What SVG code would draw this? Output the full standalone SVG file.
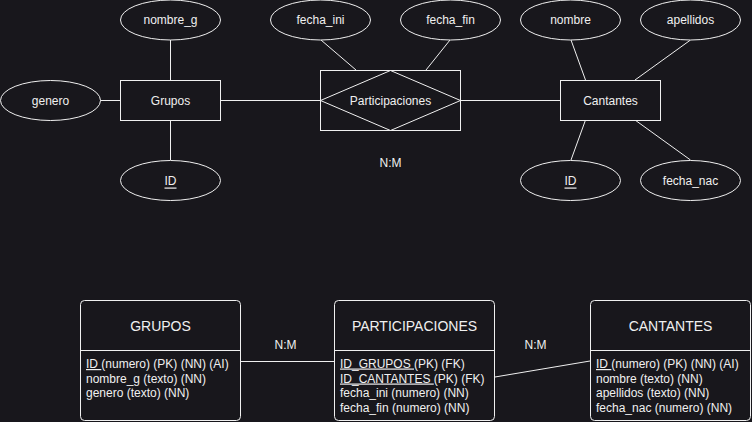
<svg xmlns="http://www.w3.org/2000/svg" width="752" height="422" viewBox="0 0 752 422">
<style>
.s{fill:#18171c;stroke:#f0f0f0;stroke-width:1}
.c{fill:none;stroke:#f0f0f0;stroke-width:1}
text{font-family:"Liberation Sans",Arial,sans-serif;font-size:12px;fill:#f0f0f0}
.m{text-anchor:middle;dominant-baseline:central}
.t{font-size:14px}
.u{text-decoration:underline}
</style>
<rect width="752" height="422" fill="#18171c"/>
<g id="connectors">
<line class="c" x1="170.5" y1="40" x2="170.5" y2="80"/>
<line class="c" x1="100" y1="100.5" x2="120" y2="100.5"/>
<line class="c" x1="170.5" y1="120" x2="170.5" y2="160"/>
<line class="c" x1="220" y1="100.5" x2="320" y2="100.5"/>
<line class="c" x1="460" y1="100.5" x2="560" y2="100.5"/>
<line class="c" x1="321" y1="40" x2="356" y2="70"/>
<line class="c" x1="450" y1="40" x2="426" y2="70"/>
<line class="c" x1="571" y1="40" x2="585.5" y2="80"/>
<line class="c" x1="690.5" y1="40" x2="635" y2="80"/>
<line class="c" x1="585.5" y1="120" x2="571" y2="160"/>
<line class="c" x1="635" y1="120" x2="690.5" y2="160"/>
<line class="c" x1="240" y1="361.5" x2="335" y2="361.5"/>
<line class="c" x1="495" y1="377" x2="590" y2="361"/>
</g>
<g id="nombre_g"><ellipse class="s" cx="170.5" cy="20" rx="50" ry="20"/><text class="m" x="170.5" y="20">nombre_g</text></g>
<g id="grupos"><rect class="s" x="120.5" y="80.5" width="100" height="40"/><text class="m" x="170.5" y="100.5">Grupos</text></g>
<g id="genero"><ellipse class="s" cx="50.5" cy="100.5" rx="50" ry="20"/><text class="m" x="50.5" y="100.5">genero</text></g>
<g id="id_g"><ellipse class="s" cx="170.5" cy="180.5" rx="50" ry="20"/><text class="m u" x="170.5" y="180.5">ID</text></g>
<g id="fecha_ini"><ellipse class="s" cx="320.5" cy="20" rx="50" ry="20"/><text class="m" x="320.5" y="20">fecha_ini</text></g>
<g id="fecha_fin"><ellipse class="s" cx="450.5" cy="20" rx="50" ry="20"/><text class="m" x="450.5" y="20">fecha_fin</text></g>
<g id="participaciones"><rect class="s" x="320.5" y="70.5" width="140" height="60"/><polygon class="c" points="320.5,100.5 390.5,70.5 460.5,100.5 390.5,130.5"/><text class="m" x="390.5" y="100.5">Participaciones</text></g>
<g id="nm_top"><text class="m" x="390.5" y="162.5">N:M</text></g>
<g id="cantantes"><rect class="s" x="560.5" y="80.5" width="100" height="40"/><text class="m" x="610.5" y="100.5">Cantantes</text></g>
<g id="nombre"><ellipse class="s" cx="570.5" cy="20" rx="50" ry="20"/><text class="m" x="570.5" y="20">nombre</text></g>
<g id="apellidos"><ellipse class="s" cx="690.5" cy="20" rx="50" ry="20"/><text class="m" x="690.5" y="20">apellidos</text></g>
<g id="id_c"><ellipse class="s" cx="570.5" cy="180.5" rx="50" ry="20"/><text class="m u" x="570.5" y="180.5">ID</text></g>
<g id="fecha_nac"><ellipse class="s" cx="690.5" cy="180.5" rx="50" ry="20"/><text class="m" x="690.5" y="180.5">fecha_nac</text></g>
<g id="t_grupos">
<rect class="s" x="80.5" y="300.5" width="160" height="120" rx="4"/>
<line class="c" x1="80.5" y1="350.5" x2="240.5" y2="350.5"/>
<text class="m t" x="160.5" y="325.5">GRUPOS</text>
<text x="86" y="368"><tspan class="u">ID </tspan>(numero) (PK) (NN) (AI)</text>
<text x="86" y="382.5">nombre_g (texto) (NN)</text>
<text x="86" y="397">genero (texto) (NN)</text>
</g>
<g id="nm1"><text class="m" x="285.5" y="345">N:M</text></g>
<g id="t_participaciones">
<rect class="s" x="334.5" y="300.5" width="160" height="120" rx="4"/>
<line class="c" x1="334.5" y1="350.5" x2="494.5" y2="350.5"/>
<text class="m t" x="414.5" y="325.5">PARTICIPACIONES</text>
<text x="340" y="367.5"><tspan class="u">ID_GRUPOS </tspan>(PK) (FK)</text>
<text x="340" y="382.5"><tspan class="u">ID_CANTANTES </tspan>(PK) (FK)</text>
<text x="340" y="397">fecha_ini (numero) (NN)</text>
<text x="340" y="411.5">fecha_fin (numero) (NN)</text>
</g>
<g id="nm2"><text class="m" x="535.5" y="345">N:M</text></g>
<g id="t_cantantes">
<rect class="s" x="590.5" y="300.5" width="160" height="120" rx="4"/>
<line class="c" x1="590.5" y1="350.5" x2="750.5" y2="350.5"/>
<text class="m t" x="670.5" y="325.5">CANTANTES</text>
<text x="596" y="368"><tspan class="u">ID </tspan>(numero) (PK) (NN) (AI)</text>
<text x="596" y="382.5">nombre (texto) (NN)</text>
<text x="596" y="397">apellidos (texto) (NN)</text>
<text x="596" y="411.5">fecha_nac (numero) (NN)</text>
</g>
</svg>
